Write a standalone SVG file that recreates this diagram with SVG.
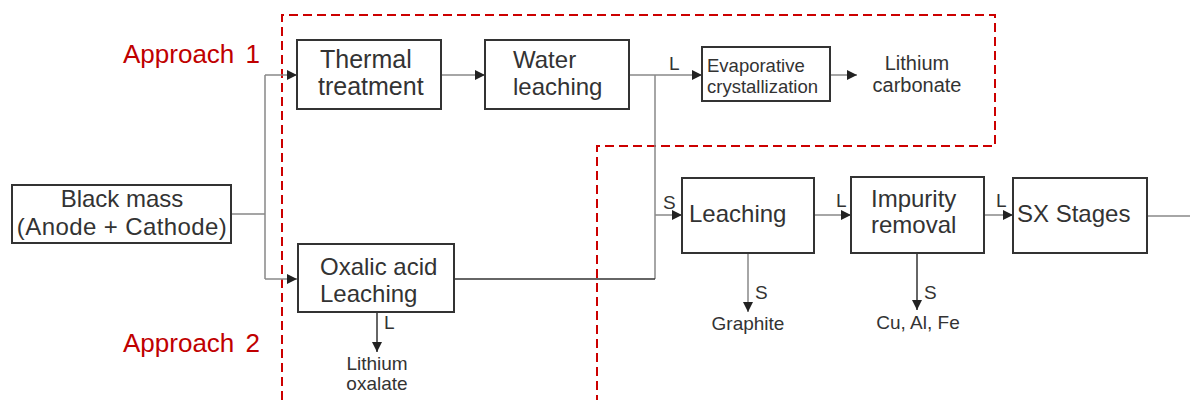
<svg xmlns="http://www.w3.org/2000/svg" width="1190" height="400" viewBox="0 0 1190 400">
<style>
.box{fill:#fff;stroke:#333;stroke-width:2}
.t{font-family:"Liberation Sans",Arial,sans-serif;fill:#333}
.big{font-size:24px}
.sm{font-size:19px}
.red{font-family:"Liberation Sans",Arial,sans-serif;fill:#c00000;font-size:26px}
.c{fill:none;stroke:#888;stroke-width:1.5}
.d{fill:none;stroke:#333;stroke-width:1.5}
.dash{fill:none;stroke:#cc0000;stroke-width:2;stroke-dasharray:9 5}
</style>
<defs>
<marker id="ah" viewBox="0 0 10 10" markerWidth="10" markerHeight="10" refX="10" refY="5" orient="auto" markerUnits="userSpaceOnUse">
<path d="M0,0 L10,5 L0,10 z" fill="#222"/>
</marker>
</defs>
<rect width="1190" height="400" fill="#fff"/>
<path class="dash" d="M282,400 V15 H995 V146 H597 V400"/>
<text class="red" x="123" y="63" word-spacing="4">Approach 1</text>
<text class="red" x="123" y="352" word-spacing="4">Approach 2</text>
<g id="connectors">
<path class="c" d="M231,214 H265 M265,75 V279"/>
<path class="c" d="M265,75 H297" marker-end="url(#ah)"/>
<path class="c" d="M265,279 H297" marker-end="url(#ah)"/>
<path class="c" d="M441,75 H485" marker-end="url(#ah)"/>
<path class="c" d="M629,75 H702" marker-end="url(#ah)"/>
<path class="c" d="M655,75 V279"/>
<path class="d" d="M454,279 H655"/>
<path class="c" d="M655,215 H682" marker-end="url(#ah)"/>
<path class="c" d="M830,75 H857" marker-end="url(#ah)"/>
<path class="c" d="M814,215 H851" marker-end="url(#ah)"/>
<path class="c" d="M984,215 H1013" marker-end="url(#ah)"/>
<path class="c" d="M1147,216 H1200" marker-end="url(#ah)"/>
<path class="c" d="M748,253 V312" marker-end="url(#ah)"/>
<path class="d" d="M917,253 V310" marker-end="url(#ah)"/>
<path class="d" d="M377,312 V352" marker-end="url(#ah)"/>
<text class="t sm" x="669" y="70">L</text>
<text class="t sm" x="663" y="209">S</text>
<text class="t sm" x="836" y="207">L</text>
<text class="t sm" x="996" y="207">L</text>
<text class="t sm" x="755" y="299">S</text>
<text class="t sm" x="924" y="299">S</text>
<text class="t sm" x="384" y="329">L</text>
</g>
<g id="black-mass">
<rect class="box" x="12" y="185" width="219" height="58"/>
<text class="t big" x="122" y="207" text-anchor="middle">Black mass</text>
<text class="t big" x="122" y="235" text-anchor="middle" letter-spacing="0.4">(Anode + Cathode)</text>
</g>
<g id="thermal">
<rect class="box" x="297" y="40" width="144" height="69"/>
<text class="t" font-size="25" x="320" y="68">Thermal</text>
<text class="t" font-size="25" x="318" y="95">treatment</text>
</g>
<g id="water">
<rect class="box" x="485" y="40" width="144" height="69"/>
<text class="t big" x="513" y="68">Water</text>
<text class="t big" x="513" y="95">leaching</text>
</g>
<g id="evap">
<rect class="box" x="702" y="47" width="128" height="54"/>
<text class="t" font-size="18.5" x="707" y="72">Evaporative</text>
<text class="t" font-size="18.5" x="707" y="93">crystallization</text>
</g>
<g id="li-carbonate">
<text class="t" font-size="20" x="917" y="70" text-anchor="middle">Lithium</text>
<text class="t" font-size="20" x="917" y="92" text-anchor="middle">carbonate</text>
</g>
<g id="oxalic">
<rect class="box" x="298" y="244" width="156" height="68"/>
<text class="t big" x="320" y="275">Oxalic acid</text>
<text class="t big" x="320" y="302">Leaching</text>
</g>
<g id="li-oxalate">
<text class="t sm" x="377" y="370" text-anchor="middle">Lithium</text>
<text class="t sm" x="377" y="390" text-anchor="middle">oxalate</text>
</g>
<g id="leaching">
<rect class="box" x="682" y="178" width="132" height="75"/>
<text class="t big" x="689" y="222">Leaching</text>
</g>
<g id="graphite">
<text class="t sm" x="748" y="330" text-anchor="middle">Graphite</text>
</g>
<g id="impurity">
<rect class="box" x="851" y="177" width="133" height="76"/>
<text class="t big" x="871" y="207">Impurity</text>
<text class="t big" x="871" y="233">removal</text>
</g>
<g id="cu-al-fe">
<text class="t sm" x="918" y="329" text-anchor="middle">Cu, Al, Fe</text>
</g>
<g id="sx">
<rect class="box" x="1013" y="178" width="134" height="75"/>
<text class="t big" x="1017" y="222">SX Stages</text>
</g>
</svg>
